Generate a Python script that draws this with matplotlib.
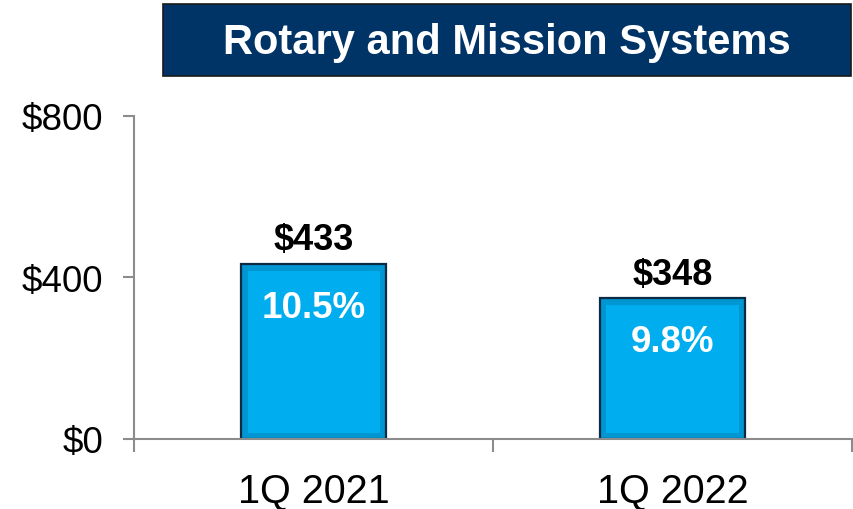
import matplotlib as mpl
mpl.use("Agg")

import matplotlib.pyplot as plt
from matplotlib.patches import Rectangle

# data
QUARTERS = ["1Q 2021", "1Q 2022"]
SALES = [433, 348]
MARGINS = ["10.5%", "9.8%"]
Y_TICKS = [0, 400, 800]
Y_TICK_LABELS = ["$0", "$400", "$800"]
TITLE = "Rotary and Mission Systems"

BAR_COLOR = "#00AEEF"
BEVEL_COLOR = "#0096D2"
EDGE_COLOR = "#0D2A45"
AXIS_COLOR = "#8C8C8C"
NAVY = "#003366"

mpl.rcParams.update({
    "font.family": ["Liberation Sans", "DejaVu Sans"],
    "figure.facecolor": "white",
    "savefig.facecolor": "white",
})


def main():
    fig = plt.figure(figsize=(8.54, 5.10), dpi=100)
    ax = fig.add_axes([0.157, 0.1373, 0.8407, 0.6333])

    x = list(range(len(QUARTERS)))
    width = 0.404
    bevel_x = 0.018
    bevel_y = 16

    # outer bar gives the darker bevel ring, inner bar is the bright face
    ax.bar(x, SALES, width=width, color=BEVEL_COLOR, edgecolor=EDGE_COLOR,
           linewidth=1.6, zorder=2)
    ax.bar(x, [v - 2 * bevel_y for v in SALES], bottom=bevel_y,
           width=width - 2 * bevel_x, color=BAR_COLOR, linewidth=0, zorder=3)

    for xi, value, margin in zip(x, SALES, MARGINS):
        ax.annotate(f"${value}", xy=(xi, value), xytext=(0, 5),
                    textcoords="offset points", ha="center", va="bottom",
                    fontsize=26, fontweight="bold", color="black")
        ax.annotate(margin, xy=(xi, value), xytext=(0, -31),
                    textcoords="offset points", ha="center", va="center",
                    fontsize=26.5, fontweight="bold", color="white", zorder=5)

    ax.set_xlim(-0.5, len(QUARTERS) - 0.5)
    ax.set_ylim(0, 800)

    ax.set_yticks(Y_TICKS)
    ax.set_yticklabels(Y_TICK_LABELS)
    ax.tick_params(axis="y", length=8, width=1.5, color=AXIS_COLOR,
                   labelsize=26.5, pad=14)

    ax.set_xticks(x)
    ax.set_xticklabels(QUARTERS)
    ax.set_xticks([i - 0.5 for i in range(len(QUARTERS) + 1)], minor=True)
    ax.tick_params(axis="x", which="major", length=0, labelsize=28.5, pad=23)
    ax.tick_params(axis="x", which="minor", length=9, width=1.5, color=AXIS_COLOR)

    for side in ["top", "right"]:
        ax.spines[side].set_visible(False)
    for side in ["left", "bottom"]:
        ax.spines[side].set_color(AXIS_COLOR)
        ax.spines[side].set_linewidth(1.5)
        ax.spines[side].set_zorder(4)

    # title banner
    fig.patches.append(Rectangle((0.191, 0.849), 0.805, 0.141,
                                 transform=fig.transFigure, facecolor=NAVY,
                                 edgecolor="#1a1a1a", linewidth=1.2))
    fig.text(0.594, 0.894, TITLE, ha="center", va="baseline", fontsize=30,
             fontweight="bold", color="white")

    fig.savefig("out.png", dpi=100)
    plt.close(fig)


if __name__ == "__main__":
    main()
